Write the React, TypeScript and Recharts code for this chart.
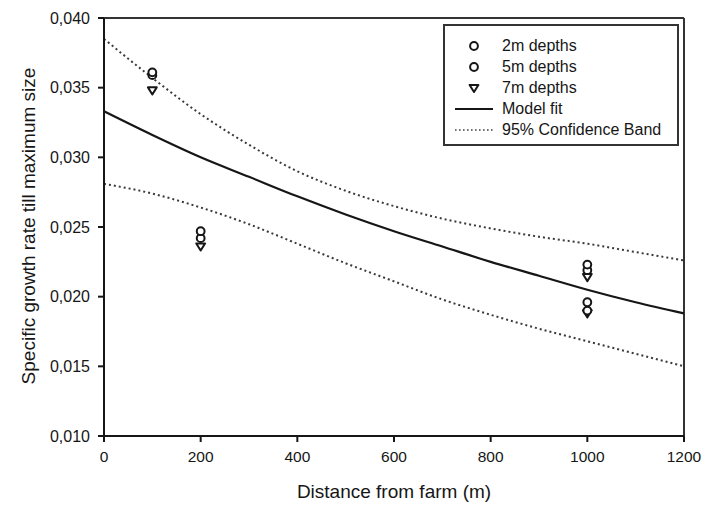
import React from "react";
import {
  ComposedChart,
  Line,
  Scatter,
  XAxis,
  YAxis,
  ReferenceLine,
  Label,
} from "recharts";

// --- Data ---

const DISTANCE = [0, 100, 200, 300, 400, 500, 600, 700, 800, 900, 1000, 1100, 1200];
const MODEL_FIT = [0.0333, 0.0316, 0.03, 0.0286, 0.0272, 0.0259, 0.0247, 0.0236, 0.0225, 0.0215, 0.0205, 0.0196, 0.0188];
const UPPER_BAND = [0.0385, 0.0357, 0.0331, 0.0309, 0.029, 0.0276, 0.0265, 0.0256, 0.0249, 0.0243, 0.0238, 0.0232, 0.0226];
const LOWER_BAND = [0.0281, 0.0274, 0.0264, 0.0252, 0.0238, 0.0224, 0.0211, 0.0198, 0.0187, 0.0177, 0.0168, 0.0159, 0.015];

const SITE_X = [100, 200, 1000, 1000];
const DEPTH_2M = [0.0361, 0.0247, 0.0223, 0.0196];
const DEPTH_5M = [0.0359, 0.0242, 0.0219, 0.019];
const DEPTH_7M = [0.0348, 0.0236, 0.0214, 0.0188];

const X_TICKS = [0, 200, 400, 600, 800, 1000, 1200];
const Y_TICKS = [0.01, 0.015, 0.02, 0.025, 0.03, 0.035, 0.04];

const toPoints = (xs: number[], ys: number[]) => xs.map((x, i) => ({ x, y: ys[i] }));

const fitData = toPoints(DISTANCE, MODEL_FIT);
const upperData = toPoints(DISTANCE, UPPER_BAND);
const lowerData = toPoints(DISTANCE, LOWER_BAND);

const INK = "#161616";
const FONT = "'Liberation Sans', Arial, sans-serif";

const OpenCircle = (props: any) => (
  <circle cx={props.cx} cy={props.cy} r={3.9} fill="white" stroke={INK} strokeWidth={2} />
);

const DownTriangle = (props: any) => {
  const { cx, cy } = props;
  const s = 4.4;
  return (
    <path
      d={`M${cx - s},${cy - s * 0.7} L${cx + s},${cy - s * 0.7} L${cx},${cy + s * 0.9} Z`}
      fill="white"
      stroke={INK}
      strokeWidth={2}
      strokeLinejoin="round"
    />
  );
};

const LEGEND_ROWS = [
  { label: "2m depths", kind: "circle" },
  { label: "5m depths", kind: "circle" },
  { label: "7m depths", kind: "triangle" },
  { label: "Model fit", kind: "line" },
  { label: "95% Confidence Band", kind: "dotted" },
];

function LegendBox() {
  return (
    <div
      style={{
        position: "absolute",
        left: 443,
        top: 24,
        width: 236,
        height: 122,
        border: `2px solid #333`,
        background: "white",
        boxSizing: "border-box",
        paddingTop: 10,
        fontFamily: FONT,
        fontSize: 16,
        color: INK,
      }}
    >
      {LEGEND_ROWS.map((row) => (
        <div key={row.label} style={{ display: "flex", alignItems: "center", height: 20.8 }}>
          <svg width={57} height={20} style={{ flex: "none" }}>
            {row.kind === "circle" && <OpenCircle cx={29} cy={10} />}
            {row.kind === "triangle" && <DownTriangle cx={29} cy={10} />}
            {row.kind === "line" && <line x1={10} x2={48} y1={10} y2={10} stroke={INK} strokeWidth={2.2} />}
            {row.kind === "dotted" && (
              <line x1={10} x2={48} y1={10} y2={10} stroke="#444" strokeWidth={1.6} strokeDasharray="1.6 2.4" />
            )}
          </svg>
          <span style={{ whiteSpace: "nowrap" }}>{row.label}</span>
        </div>
      ))}
    </div>
  );
}

export default function App() {
  const yFormat = (v: number) => v.toFixed(3).replace(".", ",");

  return (
    <div style={{ position: "absolute", left: 0, top: 0, width: 710, height: 506, background: "white", fontFamily: FONT }}>
      <ComposedChart width={710} height={506} margin={{ top: 18, right: 26, bottom: 0, left: 0 }}>
        <XAxis
          type="number"
          dataKey="x"
          domain={[0, 1200]}
          ticks={X_TICKS}
          height={70}
          tickSize={6}
          tickMargin={9}
          stroke={INK}
          strokeWidth={2}
          tick={{ fill: INK, fontSize: 15.5, fontFamily: FONT }}
        >
          <Label
            value="Distance from farm (m)"
            position="insideBottom"
            offset={8}
            style={{ fill: INK, fontSize: 19, fontFamily: FONT }}
          />
        </XAxis>
        <YAxis
          type="number"
          dataKey="y"
          domain={[0.01, 0.04]}
          ticks={Y_TICKS}
          width={104}
          tickSize={6}
          tickMargin={8}
          tickFormatter={yFormat}
          stroke={INK}
          strokeWidth={2}
          tick={{ fill: INK, fontSize: 16, fontFamily: FONT }}
        >
          <Label
            content={() => (
              <text
                x={0}
                y={0}
                transform="translate(28, 226) rotate(-90)"
                textAnchor="middle"
                dominantBaseline="central"
                style={{ fill: INK, fontSize: 19, fontFamily: FONT }}
              >
                Specific growth rate till maximum size
              </text>
            )}
          />
        </YAxis>

        <ReferenceLine y={0.04} stroke="#333" strokeWidth={2} />
        <ReferenceLine x={1200} stroke="#333" strokeWidth={2} />

        <Line
          data={upperData}
          dataKey="y"
          type="monotone"
          stroke="#3a3a3a"
          strokeWidth={2}
          strokeDasharray="2 3"
          dot={false}
          activeDot={false}
          isAnimationActive={false}
        />
        <Line
          data={lowerData}
          dataKey="y"
          type="monotone"
          stroke="#3a3a3a"
          strokeWidth={2}
          strokeDasharray="2 3"
          dot={false}
          activeDot={false}
          isAnimationActive={false}
        />
        <Line
          data={fitData}
          dataKey="y"
          type="monotone"
          stroke={INK}
          strokeWidth={2.2}
          dot={false}
          activeDot={false}
          isAnimationActive={false}
        />

        <Scatter data={toPoints(SITE_X, DEPTH_7M)} dataKey="y" shape={DownTriangle} isAnimationActive={false} />
        <Scatter data={toPoints(SITE_X, DEPTH_5M)} dataKey="y" shape={OpenCircle} isAnimationActive={false} />
        <Scatter data={toPoints(SITE_X, DEPTH_2M)} dataKey="y" shape={OpenCircle} isAnimationActive={false} />
      </ComposedChart>
      <LegendBox />
    </div>
  );
}
